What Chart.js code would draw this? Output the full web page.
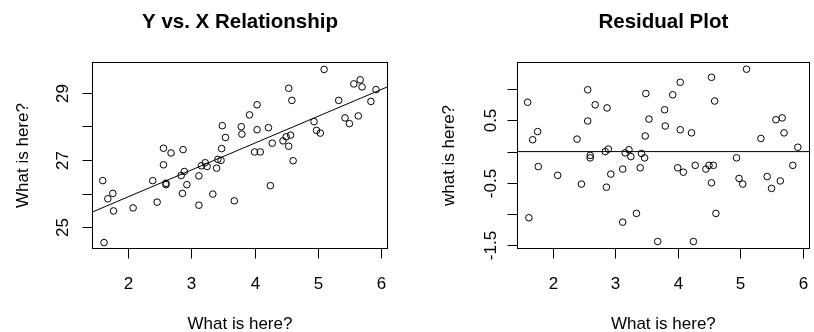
<!DOCTYPE html>
<html>
<head>
<meta charset="utf-8">
<script src="https://cdn.jsdelivr.net/npm/chart.js@4/dist/chart.umd.min.js"></script>
<style>
    html, body { margin: 0; padding: 0; background: #ffffff; }
    #wrap { position: relative; width: 814px; height: 332px; }
    canvas { position: absolute; top: 0; }
    #leftChart { left: 0; }
    #rightChart { left: 407px; }
</style>
</head>
<body>
<div id="wrap">
    <canvas id="leftChart" width="407" height="332"></canvas>
    <canvas id="rightChart" width="407" height="332"></canvas>
</div>
<script>
// values
const xValues = [1.60, 1.62, 1.68, 1.76, 1.77, 2.08, 2.39, 2.46, 2.56, 2.56,
    2.60, 2.60, 2.68, 2.84, 2.86, 2.87, 2.89, 2.93, 3.12, 3.12,
    3.16, 3.22, 3.25, 3.34, 3.40, 3.42, 3.47, 3.48, 3.49, 3.54,
    3.68, 3.79, 3.80, 3.92, 4.00, 4.04, 4.04, 4.09, 4.22, 4.25,
    4.28, 4.45, 4.50, 4.54, 4.54, 4.57, 4.59, 4.61, 4.94, 4.98,
    5.04, 5.10, 5.33, 5.43, 5.50, 5.57, 5.64, 5.67, 5.70, 5.84, 5.92];
const yValues = [26.39, 24.55, 25.85, 26.01, 25.49, 25.58, 26.39, 25.75, 27.35, 26.86,
    26.31, 26.27, 27.21, 26.54, 26.01, 27.31, 26.66, 26.27, 26.53, 25.66,
    26.83, 26.92, 26.81, 25.99, 26.76, 27.02, 26.99, 27.34, 28.02, 27.67,
    25.79, 27.99, 27.77, 28.34, 27.24, 28.64, 27.90, 27.24, 27.96, 26.24,
    27.50, 27.57, 27.69, 27.41, 29.13, 27.74, 28.77, 26.98, 28.14, 27.88,
    27.80, 29.69, 28.77, 28.25, 28.08, 29.26, 28.31, 29.38, 29.17, 28.74, 29.09];
const residuals = [0.79, -1.06, 0.19, 0.32, -0.24, -0.38, 0.20, -0.52, 0.99, 0.49,
    -0.06, -0.10, 0.75, 0.00, -0.57, 0.70, 0.04, -0.36, -0.28, -1.13,
    -0.02, 0.03, -0.08, -0.99, -0.26, -0.03, -0.10, 0.25, 0.93, 0.52,
    -1.44, 0.67, 0.41, 0.91, -0.26, 1.11, 0.35, -0.33, 0.30, -1.44,
    -0.22, -0.28, -0.22, -0.50, 1.19, -0.22, 0.81, -0.99, -0.10, -0.43,
    -0.52, 1.32, 0.21, -0.40, -0.59, 0.51, -0.47, 0.54, 0.30, -0.22, 0.07];

const xTicks = [2, 3, 4, 5, 6];
const yTicks = [25, 26, 27, 28, 29];
const yTickLabels = ['25', '', '27', '', '29'];
const residTicks = [-1.5, -1.0, -0.5, 0, 0.5, 1.0];
const residTickLabels = ['-1.5', '', '-0.5', '', '0.5', ''];

const FONT = '"Liberation Sans", Arial, sans-serif';

// least squares fit for the line in the first panel
function fitLine(xs, ys) {
    const n = xs.length;
    const mx = xs.reduce((a, b) => a + b, 0) / n;
    const my = ys.reduce((a, b) => a + b, 0) / n;
    let sxy = 0;
    let sxx = 0;
    for (let i = 0; i < n; i++) {
        sxy += (xs[i] - mx) * (ys[i] - my);
        sxx += (xs[i] - mx) * (xs[i] - mx);
    }
    const slope = sxy / sxx;
    return { slope: slope, intercept: my - slope * mx };
}

// base-graphics look: box, outside ticks, rotated y labels
const rAxesPlugin = {
    id: 'rAxes',
    afterDraw(chart, args, opts) {
        const ctx = chart.ctx;
        const area = chart.chartArea;
        const xs = chart.scales.x;
        const ys = chart.scales.y;
        const left = Math.round(area.left) + 0.5;
        const right = Math.round(area.right) - 0.5;
        const top = Math.round(area.top) + 0.5;
        const bottom = Math.round(area.bottom) - 0.5;

        ctx.save();
        ctx.strokeStyle = '#000000';
        ctx.fillStyle = '#000000';
        ctx.lineWidth = 1;
        ctx.strokeRect(left, top, right - left, bottom - top);

        // x axis
        ctx.font = `17px ${FONT}`;
        ctx.textAlign = 'center';
        ctx.textBaseline = 'alphabetic';
        opts.xTicks.forEach((v) => {
            const px = Math.round(xs.getPixelForValue(v)) + 0.5;
            ctx.beginPath();
            ctx.moveTo(px, bottom);
            ctx.lineTo(px, bottom + 10);
            ctx.stroke();
            ctx.fillText(String(v), px, bottom + 40);
        });

        // y axis
        opts.yTicks.forEach((v, i) => {
            const py = Math.round(ys.getPixelForValue(v)) + 0.5;
            ctx.beginPath();
            ctx.moveTo(left - 10, py);
            ctx.lineTo(left, py);
            ctx.stroke();
            if (opts.yLabels[i]) {
                ctx.save();
                ctx.translate(left - opts.yLabelGap, py);
                ctx.rotate(-Math.PI / 2);
                ctx.fillText(opts.yLabels[i], 0, 0);
                ctx.restore();
            }
        });

        const cx = (area.left + area.right) / 2;
        const cy = (area.top + area.bottom) / 2;

        // axis titles
        ctx.fillText(opts.xTitle, cx, 329);
        ctx.save();
        ctx.translate(left - opts.yTitleGap, cy);
        ctx.rotate(-Math.PI / 2);
        ctx.fillText(opts.yTitle, 0, 0);
        ctx.restore();

        // main title
        ctx.font = `bold 20.5px ${FONT}`;
        ctx.fillText(opts.title, cx, 28);
        ctx.restore();
    },
};

function pointSet(xs, ys) {
    return {
        type: 'scatter',
        data: xs.map((x, i) => ({ x: x, y: ys[i] })),
        pointStyle: 'circle',
        pointRadius: 3.3,
        pointHoverRadius: 3.3,
        pointBorderWidth: 1,
        pointBorderColor: '#000000',
        pointBackgroundColor: 'rgba(0,0,0,0)',
        showLine: false,
        order: 2,
    };
}

function lineSet(points) {
    return {
        type: 'line',
        data: points,
        borderColor: '#000000',
        borderWidth: 1,
        pointRadius: 0,
        fill: false,
        order: 1,
    };
}

function makeChart(canvasId, datasets, xRange, yRange, padding, axes) {
    const ctx = document.getElementById(canvasId).getContext('2d');
    return new Chart(ctx, {
        type: 'scatter',
        data: { datasets: datasets },
        options: {
            responsive: false,
            animation: false,
            events: [],
            layout: { padding: padding },
            scales: {
                x: { type: 'linear', min: xRange[0], max: xRange[1], display: false },
                y: { type: 'linear', min: yRange[0], max: yRange[1], display: false },
            },
            plugins: {
                legend: { display: false },
                tooltip: { enabled: false },
                rAxes: axes,
            },
        },
        plugins: [rAxesPlugin],
    });
}

const xRange = [1.43, 6.11];
const fit = fitLine(xValues, yValues);

makeChart('leftChart',
    [
        pointSet(xValues, yValues),
        lineSet([
            { x: xRange[0], y: fit.intercept + fit.slope * xRange[0] },
            { x: xRange[1], y: fit.intercept + fit.slope * xRange[1] },
        ]),
    ],
    xRange, [24.36, 29.91],
    { left: 92, right: 19, top: 62, bottom: 83 },
    {
        title: 'Y vs. X Relationship',
        xTitle: 'What is here?',
        yTitle: 'What is here?',
        xTicks: xTicks,
        yTicks: yTicks,
        yLabels: yTickLabels,
        yLabelGap: 25,
        yTitleGap: 65,
    });

makeChart('rightChart',
    [
        pointSet(xValues, residuals),
        lineSet([{ x: xRange[0], y: 0 }, { x: xRange[1], y: 0 }]),
    ],
    xRange, [-1.56, 1.435],
    { left: 110, right: 2, top: 62, bottom: 83 },
    {
        title: 'Residual Plot',
        xTitle: 'What is here?',
        yTitle: 'what is here?',
        xTicks: xTicks,
        yTicks: residTicks,
        yLabels: residTickLabels,
        yLabelGap: 22,
        yTitleGap: 64,
    });
</script>
</body>
</html>
